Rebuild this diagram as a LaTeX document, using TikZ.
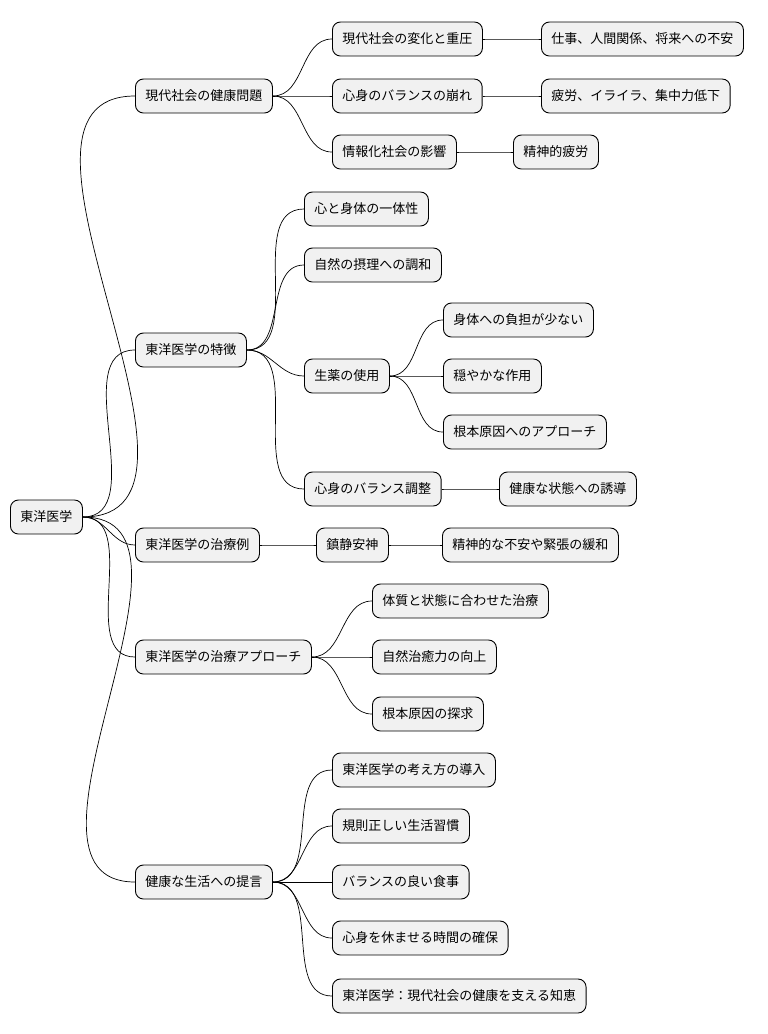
\documentclass[tikz,border=0pt]{standalone}
\usepackage{fontspec}
\newfontfamily\cjk{Noto Sans CJK JP}
\definecolor{Boxgray}{RGB}{241,241,241}
\tikzset{
    topic/.style={
        draw,
        line width=0.9pt,
        rounded corners=8pt,
        fill=Boxgray,
        minimum height=34pt,
        inner xsep=10pt,
        anchor=west,
        font=\cjk\fontsize{13pt}{15pt}\selectfont
    },
    link/.style={line width=0.7pt}
}
\newcommand{\mnode}[4]{
    \node(#1)[topic] at (#2,-#3) {#4};
}
\newcommand{\mlink}[2]{
    \draw[link] (#1.east) to[out=0, in=180] (#2.west);
}

\begin{document}
\begin{tikzpicture}[x=1pt, y=1pt]
	\useasboundingbox (0,0) rectangle (768,-1034);
	
	\mnode{root}{10}{517}{東洋医学}
	
	\mnode{prob}{135}{96}{現代社会の健康問題}
	\mnode{prob1}{332}{39}{現代社会の変化と重圧}
	\mnode{prob1a}{541}{39}{仕事、人間関係、将来への不安}
	\mnode{prob2}{332}{96}{心身のバランスの崩れ}
	\mnode{prob2a}{541}{96}{疲労、イライラ、集中力低下}
	\mnode{prob3}{332}{152}{情報化社会の影響}
	\mnode{prob3a}{513}{152}{精神的疲労}
	
	\mnode{feat}{135}{350}{東洋医学の特徴}
	\mnode{feat1}{304}{209}{心と身体の一体性}
	\mnode{feat2}{304}{265}{自然の摂理への調和}
	\mnode{feat3}{304}{376}{生薬の使用}
	\mnode{feat3a}{443}{320}{身体への負担が少ない}
	\mnode{feat3b}{443}{376}{穏やかな作用}
	\mnode{feat3c}{443}{432}{根本原因へのアプローチ}
	\mnode{feat4}{304}{489}{心身のバランス調整}
	\mnode{feat4a}{499}{489}{健康な状態への誘導}
	
	\mnode{case}{135}{545}{東洋医学の治療例}
	\mnode{case1}{316}{545}{鎮静安神}
	\mnode{case1a}{442}{545}{精神的な不安や緊張の緩和}
	
	\mnode{appr}{135}{657}{東洋医学の治療アプローチ}
	\mnode{appr1}{372}{601}{体質と状態に合わせた治療}
	\mnode{appr2}{372}{657}{自然治癒力の向上}
	\mnode{appr3}{372}{714}{根本原因の探求}
	
	\mnode{life}{135}{882}{健康な生活への提言}
	\mnode{life1}{332}{770}{東洋医学の考え方の導入}
	\mnode{life2}{332}{826}{規則正しい生活習慣}
	\mnode{life3}{332}{882}{バランスの良い食事}
	\mnode{life4}{332}{938}{心身を休ませる時間の確保}
	\mnode{life5}{332}{996}{東洋医学：現代社会の健康を支える知恵}
	
	% connectors
	\foreach \c in {prob,feat,case,appr,life}
	    {\mlink{root}{\c}}
	\foreach \c in {1,2,3}
	    {\mlink{prob}{prob\c} \mlink{prob\c}{prob\c a}}
	\foreach \c in {1,2,3,4}
	    {\mlink{feat}{feat\c}}
	\foreach \c in {a,b,c}
	    {\mlink{feat3}{feat3\c}}
	\mlink{feat4}{feat4a}
	\mlink{case}{case1}
	\mlink{case1}{case1a}
	\foreach \c in {1,2,3}
	    {\mlink{appr}{appr\c}}
	\foreach \c in {1,...,5}
	    {\mlink{life}{life\c}}
\end{tikzpicture}
\end{document}
